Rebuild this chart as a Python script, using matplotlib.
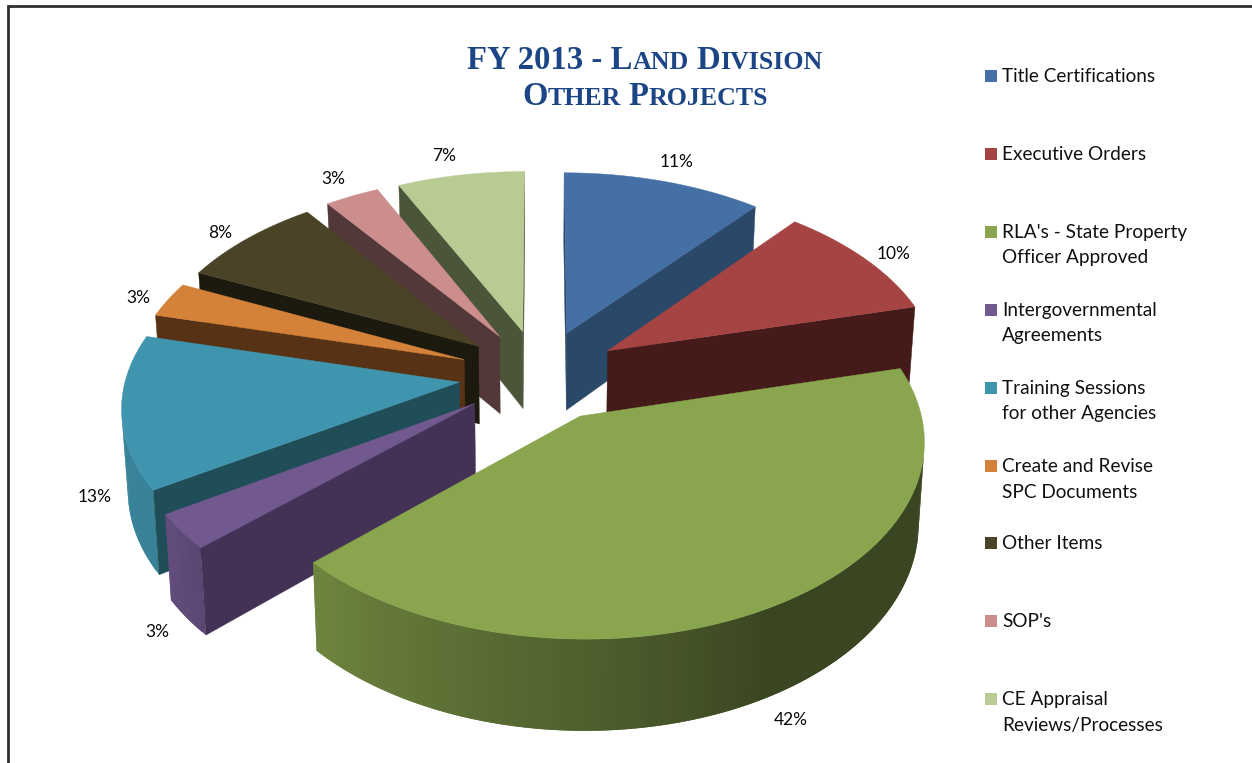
import numpy as np
import matplotlib
matplotlib.use("Agg")
import matplotlib.pyplot as plt
from matplotlib.patches import Polygon, Rectangle
from matplotlib.colors import to_rgb

# Project totals by category, in percent
categories = ["Title Certifications", "Executive Orders",
              "RLA's - State Property\nOfficer Approved",
              "Intergovernmental\nAgreements",
              "Training Sessions\nfor other Agencies",
              "Create and Revise\nSPC Documents",
              "Other Items", "SOP's",
              "CE Appraisal\nReviews/Processes"]
values = [11, 10, 42, 3, 13, 3, 8, 3, 7]

top_colors = ["#4570A5", "#A64444", "#89A54E", "#71588F", "#4095AE",
              "#D4813A", "#4B4327", "#CC8E8D", "#B8CB92"]
cut_colors = ["#2A4868", "#451B19", "#384120", "#433255", "#204E58",
              "#573214", "#1C1A0E", "#523838", "#4B553A"]

# Pie projection, in pixels of the 1252x763 canvas
X0, Y0 = 540.0, 375.0
A, B = 333.0, 187.5
PERSP = 0.114
EXPLODE = 0.244
DEPTH = 79.0
BOTTOM_SHRINK = 0.985

# Slices are painted back to front
paint_order = [8, 7, 6, 5, 4, 3, 0, 1, 2]

label_xy = [(677, 162), (894, 254), (791, 720), (157, 632), (95, 497),
            (138, 298), (220, 233), (333, 179), (444, 156)]
legend_y = [76, 154, 232, 310, 388, 466, 543, 621, 699]
LINE_STEP = 25.5


def project(u, v):
    d = 1.0 - PERSP * v
    return X0 + A * u / d, Y0 + B * v / d, DEPTH / d


def lower(x, y, dz):
    return X0 + BOTTOM_SHRINK * (x - X0), y + dz


def wall_shade(theta):
    return np.interp(theta, [75, 150, 180, 226, 240, 290],
                     [0.42, 0.42, 0.58, 0.80, 0.88, 0.88])


def blend(color, f):
    return tuple(c * f for c in to_rgb(color))


def quad(p, q):
    return [(p[0], p[1]), (q[0], q[1]),
            lower(q[0], q[1], q[2]), lower(p[0], p[1], p[2])]


def faces_viewer(poly):
    xs, ys = zip(*poly)
    s = sum(xs[k] * ys[(k + 1) % 4] - xs[(k + 1) % 4] * ys[k] for k in range(4))
    return s < 0


fig = plt.figure(figsize=(12.52, 7.63), dpi=100, facecolor="white")
ax = fig.add_axes([0, 0, 1, 1])
ax.set_xlim(0, 1252)
ax.set_ylim(763, 0)
ax.axis("off")

# Page border
ax.plot([8, 8, 1252], [763, 6, 6], color="#2F2F2F", lw=2.0,
        solid_joinstyle="miter", zorder=1)

edges = np.cumsum([0] + values) / sum(values) * 360.0
z = 2
for i in paint_order:
    t0, t1 = edges[i], edges[i + 1]
    mid = np.radians((t0 + t1) / 2)
    tu, tv = EXPLODE * np.sin(mid), -EXPLODE * np.cos(mid)
    thetas = np.arange(t0, t1 + 0.01, 1.0)
    if thetas[-1] < t1:
        thetas = np.append(thetas, t1)
    rad = np.radians(thetas)
    pts = [project(tu + np.sin(a), tv - np.cos(a)) for a in rad]
    tip = project(tu, tv)

    # Curved rim: each strip runs under its neighbour so no seams show
    for k in range(len(pts) - 1):
        poly = quad(pts[k], pts[min(k + 2, len(pts) - 1)])
        if faces_viewer(poly):
            col = blend(top_colors[i], wall_shade((thetas[k] + thetas[k + 1]) / 2))
            ax.add_patch(Polygon(poly, closed=True, fc=col, ec="none", zorder=z))
            z += 1

    # Cut faces, skipping the one turned away
    for p, q in [(tip, pts[0]), (pts[-1], tip)]:
        poly = quad(p, q)
        if faces_viewer(poly):
            ax.add_patch(Polygon(poly, closed=True, fc=cut_colors[i], ec=cut_colors[i],
                                 lw=0.3, zorder=z))
            z += 1

    top = [(tip[0], tip[1])] + [(p[0], p[1]) for p in pts]
    ax.add_patch(Polygon(top, closed=True, fc=top_colors[i], ec=top_colors[i], lw=0.3, zorder=z))
    z += 1

    ax.text(label_xy[i][0], label_xy[i][1], f"{values[i]}%", family="Lato", fontsize=12.5,
            color="#0A0A0A", ha="center", va="center", zorder=2000)

# Legend
for name, col, y in zip(categories, top_colors, legend_y):
    ax.add_patch(Rectangle((985, y - 6), 12, 12, fc=col, ec="none", zorder=2000))
    for n, line in enumerate(name.split("\n")):
        ax.text(1002, y + 0.5 + n * LINE_STEP, line, family="Lato", fontsize=13.7,
                color="#111111", ha="left", va="center", zorder=2000)

# Title with hand-set small capitals
TITLE_BLUE = "#1C4585"
BIG, SMALL = 23.6, 18.6
title_lines = [
    (645, 69, [("FY 2013 - L", BIG, 0), ("AND", SMALL, 0), ("D", BIG, 8), ("IVISION", SMALL, 0)]),
    (645, 105, [("O", BIG, 0), ("THER", SMALL, 0), ("P", BIG, 8), ("ROJECTS", SMALL, 0)]),
]
renderer = fig.canvas.get_renderer()
for cx, base, runs in title_lines:
    items = []
    total = 0.0
    for s, size, gap in runs:
        t = ax.text(0, base, s, family="Liberation Serif", weight="bold", fontsize=size,
                    color=TITLE_BLUE, ha="left", va="baseline", zorder=2000)
        w = t.get_window_extent(renderer).width
        total += gap + w
        items.append((t, gap, w))
    x = cx - total / 2
    for t, gap, w in items:
        x += gap
        t.set_x(x)
        x += w

fig.savefig("out.png", dpi=100, facecolor="white")
